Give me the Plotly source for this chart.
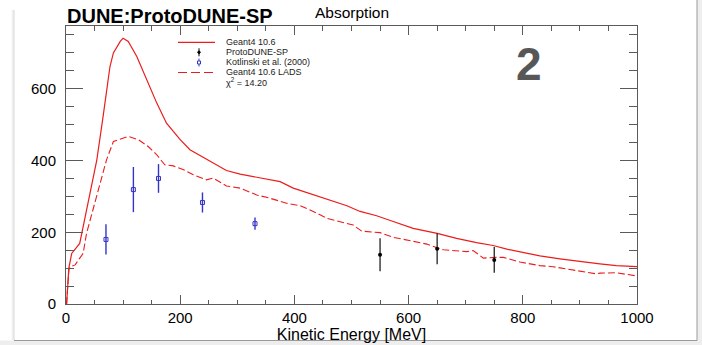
import plotly.graph_objects as go

# ---------------- data ----------------
g4_energy = [1, 3, 5, 10, 24, 36, 54, 65, 77, 83, 95, 100, 109, 124, 141, 159, 176, 200,
             217, 240, 258, 281, 305, 328, 351, 375, 398, 433, 468, 492, 515, 544, 573,
             608, 650, 684, 719, 748, 772, 795, 830, 865, 900, 935, 964, 1000]
g4_xsec = [0, 60, 100, 141, 169, 262, 402, 523, 662, 700, 732, 741, 732, 690, 625, 560, 504, 458,
           430, 409, 393, 372, 362, 355, 348, 341, 323, 304, 286, 274, 258, 246, 230,
           211, 197, 183, 171, 163, 153, 145, 134, 126, 118, 112, 107, 104]

lads_energy = [1, 3, 5, 7, 16, 22, 30, 36, 54, 71, 83, 92, 100, 109, 127, 144, 159, 173, 188,
               205, 223, 246, 258, 281, 305, 334, 357, 386, 410, 433, 457, 480, 503, 518, 550,
               573, 602, 632, 661, 684, 702, 713, 731, 751, 766, 795, 830, 853, 877, 912, 929,
               935, 964, 1000]
lads_xsec = [0, 60, 95, 104, 109, 123, 141, 197, 300, 402, 453, 458, 462, 467, 458, 439, 416, 388, 385,
             375, 360, 346, 351, 329, 323, 304, 295, 281, 274, 258, 239, 230, 220, 203, 199,
             186, 176, 167, 151, 149, 146, 149, 128, 130, 130, 117, 107, 104, 98, 90, 84,
             86, 87, 78]

kotlinski_energy = [70, 118, 162, 239, 331]
kotlinski_xsec = [180, 319, 350, 283, 224]
kotlinski_err = [42, 63, 40, 28, 17]

protodune_energy = [550, 650, 750]
protodune_xsec = [137, 154, 123]
protodune_err = [46, 43, 36]

x_ticks = [0, 200, 400, 600, 800, 1000]
y_ticks = [0, 200, 400, 600]

legend_labels = ["Geant4 10.6", "ProtoDUNE-SP", "Kotlinski et al. (2000)", "Geant4 10.6 LADS",
                 "χ<sup>2</sup> = 14.20"]

# ---------------- layout helpers (pixel -> paper) ----------------
W, H = 702, 345
L, R, T, B = 66, 65, 26, 41
PW, PH = W - L - R, H - T - B


def px(x):
    return (x - L) / PW


def py(y):
    return (H - B - y) / PH


RED = "#ec1c1c"
BLUE = "#3434c8"
FRAME = "#5a5a5a"
FONT = "Liberation Sans"

fig = go.Figure()
fig.add_trace(go.Scatter(x=g4_energy, y=g4_xsec, mode="lines",
                         line=dict(color=RED, width=1.2), name=legend_labels[0]))
fig.add_trace(go.Scatter(x=lads_energy, y=lads_xsec, mode="lines",
                         line=dict(color=RED, width=1.1, dash="7px,3px"), name=legend_labels[3]))
fig.add_trace(go.Scatter(x=kotlinski_energy, y=kotlinski_xsec, mode="markers",
                         marker=dict(symbol="square-open", size=4, color=BLUE, line=dict(width=1)),
                         error_y=dict(type="data", array=kotlinski_err, width=0, thickness=1.4, color=BLUE),
                         name=legend_labels[2]))
fig.add_trace(go.Scatter(x=protodune_energy, y=protodune_xsec, mode="markers",
                         marker=dict(symbol="circle", size=4, color="black"),
                         error_y=dict(type="data", array=protodune_err, width=0, thickness=1.3, color="#222"),
                         name=legend_labels[1]))

axis_common = dict(showline=True, linecolor=FRAME, linewidth=1, mirror="allticks",
                   ticks="inside", tickcolor=FRAME, showgrid=False, zeroline=False,
                   tickfont=dict(family=FONT, size=15, color="black"))

fig.update_xaxes(range=[0, 1000], tickvals=x_ticks, ticklen=9,
                 minor=dict(dtick=50, tick0=0, ticks="inside", ticklen=4.5, tickcolor=FRAME),
                 title=dict(text="Kinetic Energy [MeV]", font=dict(family=FONT, size=16, color="black"),
                            standoff=0),
                 automargin=False, **axis_common)
fig.update_yaxes(range=[0, 775], tickvals=y_ticks, ticklen=17,
                 minor=dict(dtick=50, tick0=0, ticks="inside", ticklen=8, tickcolor=FRAME),
                 ticklabelstandoff=6, automargin=False, **axis_common)

shapes = []
# page frame / shadow
shapes.append(dict(type="rect", xref="paper", yref="paper", x0=px(697), x1=px(702), y0=py(345), y1=py(0),
                   fillcolor="#eeeeee", line=dict(width=0), layer="below"))
shapes.append(dict(type="rect", xref="paper", yref="paper", x0=px(0), x1=px(702), y0=py(345), y1=py(340.5),
                   fillcolor="#eeeeee", line=dict(width=0), layer="below"))
shapes.append(dict(type="line", xref="paper", yref="paper", x0=px(697), x1=px(697), y0=py(340.5), y1=py(0),
                   line=dict(color="#9a9a9a", width=1)))
shapes.append(dict(type="line", xref="paper", yref="paper", x0=px(14), x1=px(697), y0=py(340.5), y1=py(340.5),
                   line=dict(color="#9a9a9a", width=1)))
for i, c in enumerate(["#f4f4f4", "#e6e6e6", "#d8d8d8"]):
    shapes.append(dict(type="line", xref="paper", yref="paper", x0=px(12 + i), x1=px(12 + i),
                       y0=py(340), y1=py(10), line=dict(color=c, width=1)))

# legend
rows = [42.3, 52.3, 62.5, 72.5, 82.3]
shapes.append(dict(type="line", xref="paper", yref="paper", x0=px(178), x1=px(215), y0=py(rows[0]), y1=py(rows[0]),
                   line=dict(color=RED, width=1.2)))
shapes.append(dict(type="line", xref="paper", yref="paper", x0=px(178), x1=px(215), y0=py(rows[3]), y1=py(rows[3]),
                   line=dict(color=RED, width=1.2, dash="9px,4px")))
shapes.append(dict(type="line", xref="paper", yref="paper", x0=px(199), x1=px(199), y0=py(rows[1] - 4),
                   y1=py(rows[1] + 4), line=dict(color="black", width=1)))
shapes.append(dict(type="circle", xref="paper", yref="paper", x0=px(197.8), x1=px(200.2), y0=py(rows[1] - 1.2),
                   y1=py(rows[1] + 1.2), fillcolor="black", line=dict(color="black", width=1)))
shapes.append(dict(type="line", xref="paper", yref="paper", x0=px(199), x1=px(199), y0=py(rows[2] - 4),
                   y1=py(rows[2] + 4), line=dict(color=BLUE, width=1)))
shapes.append(dict(type="rect", xref="paper", yref="paper", x0=px(197.5), x1=px(200.5), y0=py(rows[2] - 1.5),
                   y1=py(rows[2] + 1.5), fillcolor="white", line=dict(color=BLUE, width=1)))

annotations = []
for lab, yy in zip(legend_labels, rows):
    annotations.append(dict(text=lab, xref="paper", yref="paper", x=px(224), y=py(yy), xanchor="left",
                            yanchor="middle", showarrow=False, font=dict(family=FONT, size=9, color="#222")))

annotations.append(dict(text="<b>DUNE:ProtoDUNE-SP</b>", xref="paper", yref="paper", x=px(65), y=py(15.5),
                        xanchor="left", yanchor="middle", showarrow=False,
                        font=dict(family=FONT, size=20, color="black")))
annotations.append(dict(text="Absorption", xref="paper", yref="paper", x=px(352), y=py(12),
                        xanchor="center", yanchor="middle", showarrow=False,
                        font=dict(family=FONT, size=15.5, color="black")))
annotations.append(dict(text="<b>2</b>", xref="paper", yref="paper", x=px(529), y=py(64),
                        xanchor="center", yanchor="middle", showarrow=False,
                        font=dict(family=FONT, size=46, color="#575757")))

fig.update_layout(width=W, height=H, margin=dict(l=L, r=R, t=T, b=B, autoexpand=False),
                  paper_bgcolor="white", plot_bgcolor="white", showlegend=False,
                  shapes=shapes, annotations=annotations, font=dict(family=FONT))

fig.write_html("out.html")
